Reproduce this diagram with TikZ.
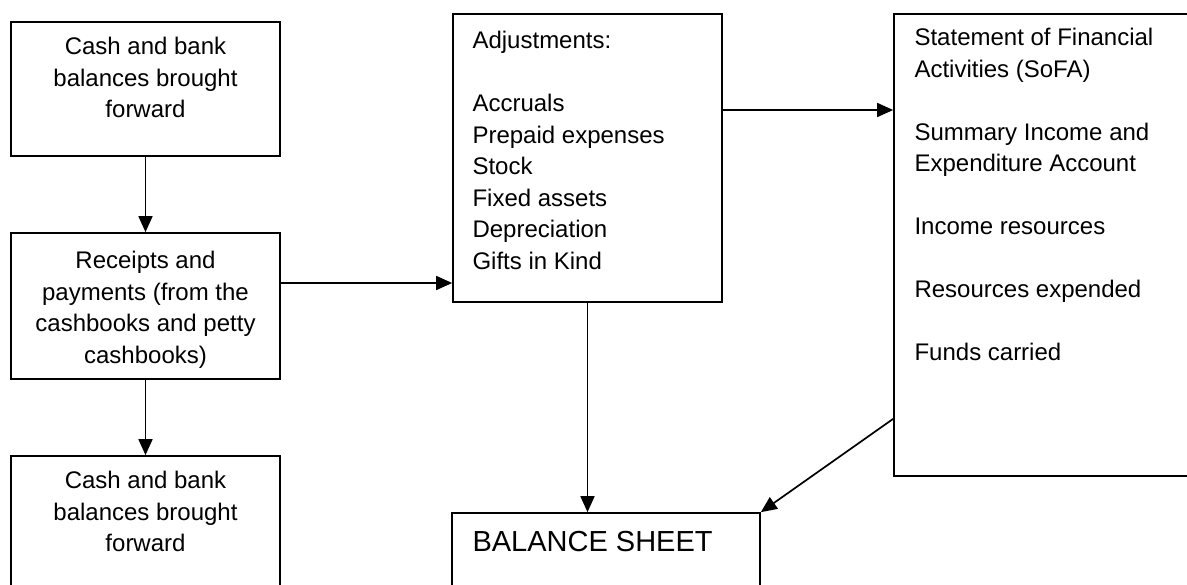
\documentclass[tikz,border=0pt]{standalone}
\usepackage{fontspec}
\setmainfont{Liberation Sans}
\usetikzlibrary{positioning,arrows.meta,fit}
\tikzset{
  box/.style   ={draw, line width=0.85pt, inner sep=0pt},
  txt/.style   ={font=\fontsize{12}{15.75}\selectfont, inner sep=0pt},
  ctxt/.style  ={txt, align=center},
  ltxt/.style  ={txt, align=left},
  arr/.style   ={-{Triangle[length=8pt,width=7pt]}, line width=0.85pt}
}

\begin{document}
\begin{tikzpicture}[x=0.5pt, y=-0.5pt]
  \useasboundingbox (0,0) rectangle (1187,584);
  \clip (0,0) rectangle (1187,584);

    % ---------- left column ----------
    \node[box, fit={(11,22) (280,156)}] (cashA) {};
    \node[ctxt, below=8pt of cashA.north] (cashAtxt)
      {Cash and bank\\balances brought\\forward};
    \node[box, fit={(11,233) (280,379)}] (receipts) {};
    \node[ctxt, below=9.5pt of receipts.north] (receiptstxt)
      {Receipts and\\payments (from the\\cashbooks and petty\\cashbooks)};
    \node[box, fit={(11,456) (280,620)}] (cashC) {};
    \node[ctxt, below=8pt of cashC.north] (cashCtxt)
      {Cash and bank\\balances brought\\forward};

    % ---------- middle column ----------
    \node[box, fit={(453,14) (722,302)}] (adjust) {};
    \node[ltxt, below right=9pt and 10pt of adjust.north west] (adjusttxt)
      {Adjustments:\\[15.75pt]Accruals\\Prepaid expenses\\Stock\\
        Fixed assets\\Depreciation\\Gifts in Kind};
    \node[box, fit={(452,513) (760,620)}] (balance) {};
    \node[txt, font=\fontsize{14.5}{17}\selectfont,
      below right=9.5pt and 10.5pt of balance.north west] (balancetxt)
      {BALANCE SHEET};

    % ---------- right column ----------
    \node[box, fit={(894,14) (1210,476)}] (sofa) {};
    \node[ltxt, below right=7.5pt and 10.5pt of sofa.north west] (sofatxt)
      {Statement of Financial\\Activities (SoFA)\\[15.75pt]
        Summary Income and\\Expenditure Account\\[15.75pt]
        Income resources\\[15.75pt]Resources expended\\[15.75pt]
        Funds carried};

    % ---------- connectors ----------
    \draw[arr] (cashA.south) -- (receipts.north);
    \draw[arr] (receipts.south) -- (cashC.north);
    \draw[arr] ([yshift=11.5pt]receipts.east)
      -- ([yshift=11.5pt]receipts.east -| adjust.west);
    \draw[arr] ([yshift=24pt]adjust.east)
      -- ([yshift=24pt]adjust.east -| sofa.west);
    \draw[arr] (adjust.south) -- (adjust.south |- balance.north);
    \draw[arr] ([yshift=29pt]sofa.south west) -- (balance.north east);

\end{tikzpicture}
\end{document}
